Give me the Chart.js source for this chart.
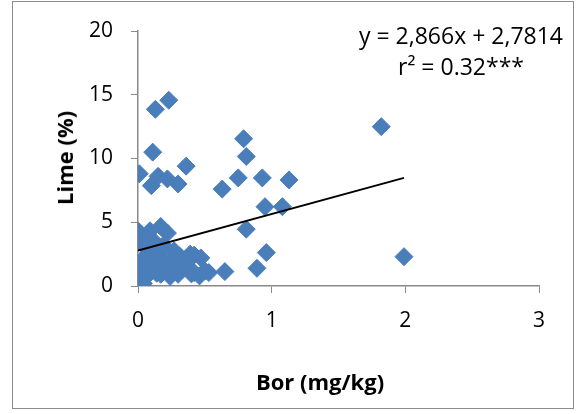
<!DOCTYPE html>
<html>
<head>
<meta charset="utf-8">
<script src="https://cdn.jsdelivr.net/npm/chart.js@4/dist/chart.umd.min.js"></script>
<style>
  body { margin: 0; background: #fff; }
  #wrap { position: relative; width: 576px; height: 414px; }
  #frame { position: absolute; left: 12px; top: 1px; width: 560px; height: 406px; border: 1px solid #8c8c8c; }
  canvas { position: absolute; left: 0; top: 0; }
  .txt { position: absolute; font-family: "Open Sans", sans-serif; color: #000; white-space: nowrap; }
  #eq { left: 330px; top: 20px; width: 262px; text-align: center; font-size: 23px; line-height: 31px; }
  #xt { left: 200px; top: 366px; width: 240px; text-align: center; font-size: 22px; font-weight: bold; }
  #yt { left: 64px; top: 158px; font-size: 22px; font-weight: bold; transform: translate(-50%, -50%) rotate(-90deg); }
</style>
</head>
<body>
<div id="wrap">
  <div id="frame"></div>
  <canvas id="chart" width="576" height="414"></canvas>
  <div class="txt" id="eq">y = 2,866x + 2,7814<br>r² = 0.32***</div>
  <div class="txt" id="xt">Bor (mg/kg)</div>
  <div class="txt" id="yt">Lime (%)</div>
</div>
<script>
// ---------- DATA ----------
const boron = [
  1.82, 1.99, 0.23, 0.13, 0.11, 0.79, 0.81, 0.01, 0.36, 0.15,
  0.10, 0.22, 0.30, 0.63, 0.75, 0.93, 1.13, 0.95, 1.08, 0.81,
  0.96, 0.89, 0.65, 0.50, 0.47,
  0.00, 0.09, 0.17, 0.22, 0.00, 0.06, 0.27, 0.31, 0.42, 0.17,
  0.12, 0.00, 0.00, 0.04, 0.07, 0.15, 0.22, 0.30, 0.36, 0.42,
  0.46, 0.53, 0.20, 0.10, 0.02, 0.06, 0.39, 0.17, 0.25, 0.33,
  0.05, 0.13, 0.19, 0.26, 0.08, 0.03, 0.14, 0.24, 0.40, 0.28
];
const lime = [
  12.5, 2.3, 14.57, 13.86, 10.5, 11.55, 10.16, 8.8, 9.4, 8.6,
  7.87, 8.4, 8.0, 7.6, 8.48, 8.48, 8.32, 6.22, 6.22, 4.46,
  2.62, 1.39, 1.13, 1.18, 2.2,
  4.33, 4.33, 4.67, 4.15, 3.54, 3.7, 2.76, 2.36, 2.42, 2.62,
  2.36, 1.44, 1.05, 0.2, 0.92, 1.31, 1.18, 0.92, 1.57, 1.05,
  0.79, 1.05, 1.83, 1.83, 1.97, 3.0, 2.5, 0.92, 2.0, 1.3,
  0.6, 3.4, 3.2, 1.6, 2.6, 1.2, 1.0, 0.75, 0.95, 1.9
];
const xTicks = [0, 1, 2, 3];
const yTicks = [0, 5, 10, 15, 20];
// trendline as printed on the chart
const slope = 2.866;
const intercept = 2.7814;

const points = boron.map((b, i) => ({ x: b, y: lime[i] }));
const xMin = Math.min(...boron);
const xMax = Math.max(...boron);
const trend = [xMin, xMax].map(x => ({ x: x, y: slope * x + intercept }));

const axisGrey = "#898989";
const tickFont = { family: "Open Sans", size: 21 };

new Chart(document.getElementById("chart"), {
  type: "scatter",
  data: {
    datasets: [
      {
        type: "line",
        data: trend,
        borderColor: "#000",
        borderWidth: 1.8,
        pointRadius: 0,
        fill: false,
        order: 0
      },
      {
        data: points,
        pointStyle: "rectRot",
        pointRadius: 9,
        backgroundColor: "#4A7EBB",
        borderColor: "#4A7EBB",
        borderWidth: 1,
        order: 1
      }
    ]
  },
  options: {
    responsive: false,
    animation: false,
    devicePixelRatio: 1,
    layout: { padding: { left: 0, right: 37, top: 31, bottom: 0 } },
    plugins: { legend: { display: false }, tooltip: { enabled: false } },
    scales: {
      x: {
        type: "linear",
        min: xTicks[0],
        max: xTicks[xTicks.length - 1],
        afterBuildTicks: s => { s.ticks = xTicks.map(v => ({ value: v })); },
        afterFit: s => { s.height = 128; },
        grid: { drawOnChartArea: false, tickLength: 7, color: axisGrey },
        border: { color: axisGrey, width: 1.5 },
        ticks: { color: "#000", font: tickFont, padding: 15, maxRotation: 0 }
      },
      y: {
        type: "linear",
        min: yTicks[0],
        max: yTicks[yTicks.length - 1],
        afterBuildTicks: s => { s.ticks = yTicks.map(v => ({ value: v })); },
        afterFit: s => { s.width = 138; },
        grid: { drawOnChartArea: false, tickLength: 7, color: axisGrey },
        border: { color: axisGrey, width: 1.5 },
        ticks: { color: "#000", font: tickFont, padding: 18 }
      }
    }
  }
});
</script>
</body>
</html>
